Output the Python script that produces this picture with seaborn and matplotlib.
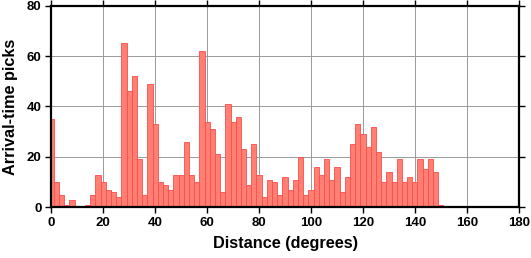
import matplotlib
matplotlib.use("Agg")
import matplotlib.pyplot as plt
import seaborn as sns
import numpy as np
import pandas as pd

# bin centres (degrees), 2-degree bins
distance = list(range(0, 152, 2))
picks = [35, 10, 5, 1, 3, 0, 0, 1, 5, 13,
         10, 7, 6, 4, 65, 46, 52, 19, 5, 49,
         33, 10, 9, 7, 13, 13, 26, 13, 10, 62,
         34, 31, 21, 6, 41, 34, 36, 23, 9, 25,
         13, 4, 11, 10, 5, 12, 7, 11, 20, 5,
         7, 16, 13, 19, 11, 16, 6, 12, 25, 33,
         29, 24, 32, 22, 10, 14, 10, 19, 10, 12,
         10, 19, 15, 19, 14, 1]

df = pd.DataFrame({"distance": distance, "picks": picks})

sns.set_style("white")
plt.rcParams["font.family"] = ["Liberation Sans", "DejaVu Sans"]
plt.rcParams["font.weight"] = "bold"
plt.rcParams["text.color"] = "black"
plt.rcParams["axes.labelcolor"] = "black"
plt.rcParams["xtick.color"] = "black"
plt.rcParams["ytick.color"] = "black"

fig = plt.figure(figsize=(5.31, 2.58), dpi=100)
ax = fig.add_axes([0.0966, 0.1965, 0.8804, 0.7815])

ax.grid(True, color="#9a9a9a", linewidth=0.7, zorder=0)
ax.set_axisbelow(True)

sns.histplot(data=df, x="distance", weights="picks", binwidth=2,
             binrange=(-1, 151), ax=ax, color="#ff7f72", alpha=1.0,
             edgecolor="#ff4c4c", linewidth=0.6, zorder=2)

ax.set_xlim(0, 180)
ax.set_ylim(0, 80)
ax.set_xticks(range(0, 181, 20))
ax.set_yticks(range(0, 81, 20))
ax.tick_params(axis="both", which="both", direction="out", length=4, width=1.0,
               labelsize=9.5, top=True, right=True, labeltop=False, labelright=False,
               bottom=True, left=True, pad=3, colors="black")
for lab in ax.get_xticklabels() + ax.get_yticklabels():
    lab.set_fontweight("bold")
for s in ax.spines.values():
    s.set_visible(True)
    s.set_linewidth(1.6)
    s.set_color("black")
    s.set_zorder(5)

ax.set_xlabel("Distance (degrees)", fontsize=11.7, fontweight="bold", labelpad=5,
              color="black")
ax.set_ylabel("Arrival-time picks", fontsize=11.7, fontweight="bold", labelpad=6,
              color="black")

fig.savefig("out.png", dpi=100)
